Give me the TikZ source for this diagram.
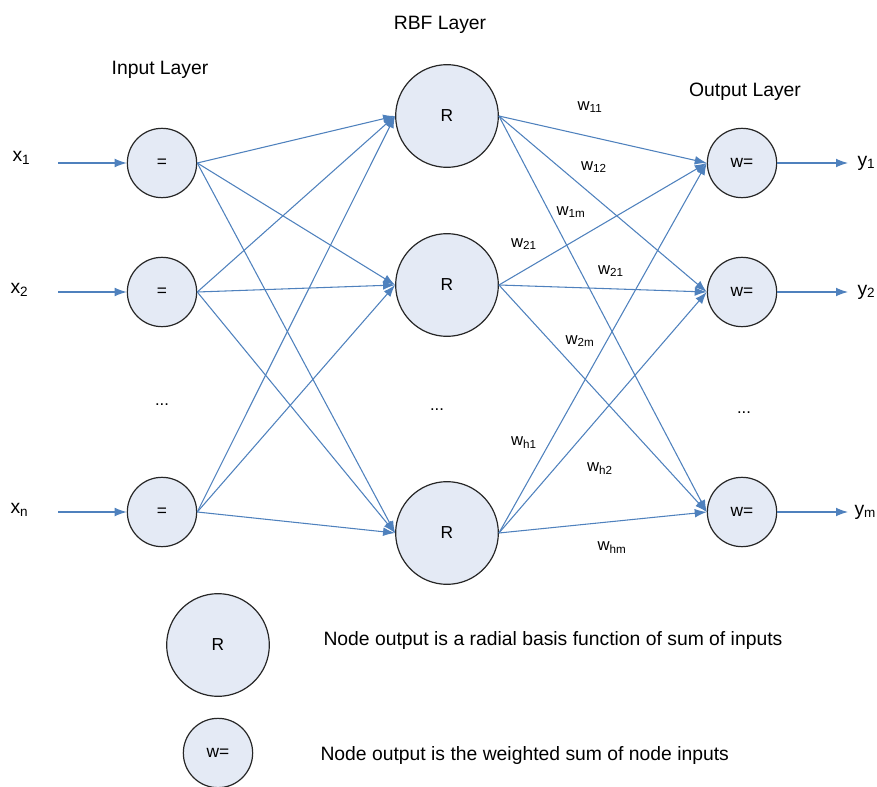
\documentclass[tikz,border=0pt]{standalone}
\usepackage{fontspec}
\setmainfont{Liberation Sans}
\usetikzlibrary{arrows.meta}
\definecolor{linkblue}{RGB}{79,129,189}
\definecolor{cellfill}{RGB}{228,234,245}
\tikzset{every picture/.style={line width=0.75pt}}
\tikzset{
neuron/.style={circle, draw=black!85, line width=0.9pt, fill=cellfill, inner sep=0pt, font=\fontsize{13}{15}\selectfont},
rbfunit/.style={neuron, minimum size=77pt},
smallunit/.style={neuron, minimum size=52pt},
link/.style={draw=linkblue, line width=0.8pt, -{Latex[length=9pt,width=6.5pt]}},
weight/.style={inner sep=0.75pt, font=\fontsize{12.5}{14}\selectfont},
caption/.style={inner sep=0.75pt, font=\fontsize{14.5}{17}\selectfont},
}

\begin{document}
\begin{tikzpicture}[x=0.75pt,y=0.75pt,yscale=-1]
\useasboundingbox (0,0) rectangle (877,787);

% Layer titles
\node (ttlin) at (160,70) [caption] {Input Layer};
\node (ttlrbf) at (440,25) [caption] {RBF Layer};
\node (ttlout) at (745,92) [caption] {Output Layer};

% Input layer
\node (in1) at (162,163) [smallunit] {=};
\node (in2) at (162,292) [smallunit] {=};
\node (inn) at (162,512) [smallunit] {=};
% RBF layer
\node (rb1) at (447,116) [rbfunit] {R};
\node (rb2) at (447,285) [rbfunit] {R};
\node (rbh) at (447,533) [rbfunit] {R};
% Output layer
\node (ou1) at (742,163) [smallunit] {w=};
\node (ou2) at (742,292) [smallunit] {w=};
\node (oum) at (742,512) [smallunit] {w=};

% Dots
\node (dotin) at (162,405) [weight] {...};
\node (dotrb) at (437,410) [weight] {...};
\node (dotou) at (744,413) [weight] {...};

% Inputs
\coordinate (sx1) at (58,163);
\coordinate (sx2) at (58,292);
\coordinate (sxn) at (58,512);
\node (lx1) at (11,158) [caption, anchor=west] {x\textsubscript{1}};
\node (lx2) at (9,290) [caption, anchor=west] {x\textsubscript{2}};
\node (lxn) at (9,510) [caption, anchor=west] {x\textsubscript{n}};
\draw [link] (sx1) -- (in1);
\draw [link] (sx2) -- (in2);
\draw [link] (sxn) -- (inn);

% Outputs
\coordinate (ey1) at (848,163);
\coordinate (ey2) at (848,292);
\coordinate (eym) at (848,512);
\node (ly1) at (856,163) [caption, anchor=west] {y\textsubscript{1}};
\node (ly2) at (856,292) [caption, anchor=west] {y\textsubscript{2}};
\node (lym) at (853,512) [caption, anchor=west] {y\textsubscript{m}};
\draw [link] (ou1) -- (ey1);
\draw [link] (ou2) -- (ey2);
\draw [link] (oum) -- (eym);

% Input -> RBF
\draw [link] (in1.east) -- (rb1.west);
\draw [link] (in1.east) -- (rb2.west);
\draw [link] (in1.east) -- (rbh.west);
\draw [link] (in2.east) -- (rb1.west);
\draw [link] (in2.east) -- (rb2.west);
\draw [link] (in2.east) -- (rbh.west);
\draw [link] (inn.east) -- (rb1.west);
\draw [link] (inn.east) -- (rb2.west);
\draw [link] (inn.east) -- (rbh.west);

% RBF -> Output
\draw [link] (rb1.east) -- (ou1.west);
\draw [link] (rb1.east) -- (ou2.west);
\draw [link] (rb1.east) -- (oum.west);
\draw [link] (rb2.east) -- (ou1.west);
\draw [link] (rb2.east) -- (ou2.west);
\draw [link] (rb2.east) -- (oum.west);
\draw [link] (rbh.east) -- (ou1.west);
\draw [link] (rbh.east) -- (ou2.west);
\draw [link] (rbh.east) -- (oum.west);

% Weights
\node (w11) at (590,107) [weight] {w\textsubscript{11}};
\node (w12) at (594,167) [weight] {w\textsubscript{12}};
\node (w1m) at (571,212) [weight] {w\textsubscript{1m}};
\node (w21a) at (524,244) [weight] {w\textsubscript{21}};
\node (w21b) at (611,271) [weight] {w\textsubscript{21}};
\node (w2m) at (580,341) [weight] {w\textsubscript{2m}};
\node (wh1) at (524,443) [weight] {w\textsubscript{h1}};
\node (wh2) at (600,469) [weight] {w\textsubscript{h2}};
\node (whm) at (612,548) [weight] {w\textsubscript{hm}};

% Legend
\node (keyrb) at (218,645) [rbfunit] {R};
\node (keyou) at (218,753) [smallunit] {w=};
\node (txtrb) at (322,640) [caption, anchor=west] {Node output is a radial basis function of sum of inputs};
\node (txtou) at (319,755) [caption, anchor=west] {Node output is the weighted sum of node inputs};

\end{tikzpicture}
\end{document}
